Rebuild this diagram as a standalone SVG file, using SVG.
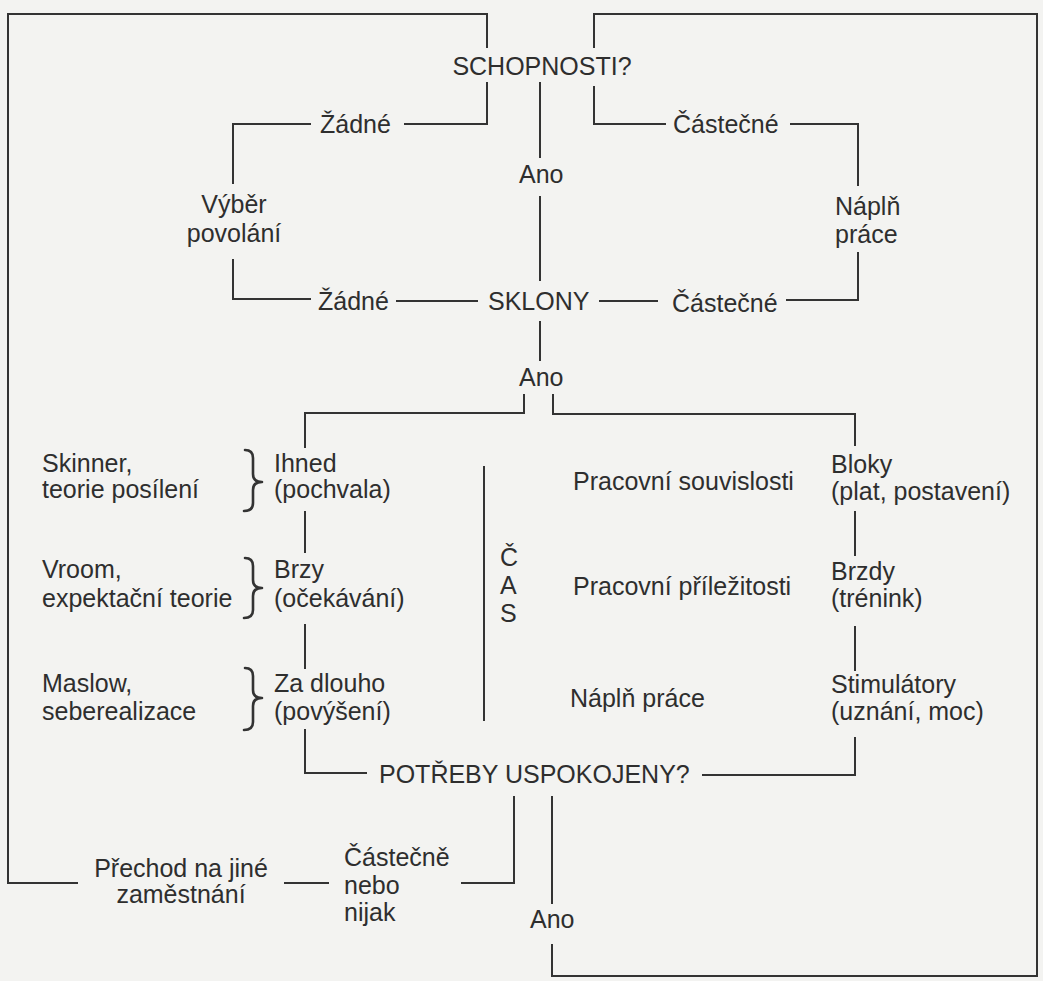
<svg xmlns="http://www.w3.org/2000/svg" width="1043" height="981" viewBox="0 0 1043 981">
<style>
text{font-family:"Liberation Sans",Arial,sans-serif;font-size:25px;fill:#2e2e2e}
.c{text-anchor:middle}
.ln{fill:none;stroke:#333;stroke-width:2;stroke-linecap:square}
.br{fill:none;stroke:#333;stroke-width:2.6;stroke-linecap:round;stroke-linejoin:round}
</style>
<rect width="1043" height="981" fill="#f3f3f1"/>
<g id="connectors" class="ln">
<path class="ln" d="M487 47V14H8V883H77"/>
<path class="ln" d="M487 83V124H405"/>
<path class="ln" d="M310 124H233V183"/>
<path class="ln" d="M233 260V299H310"/>
<path class="ln" d="M397 301H477"/>
<path class="ln" d="M600 301H657"/>
<path class="ln" d="M540 83V157"/>
<path class="ln" d="M540 197V280"/>
<path class="ln" d="M594 47V14H1037V976H552V945"/>
<path class="ln" d="M594 87V124H665"/>
<path class="ln" d="M791 124H858V185"/>
<path class="ln" d="M858 253V300H787"/>
<path class="ln" d="M540 322V360"/>
<path class="ln" d="M524 395V413H305V447"/>
<path class="ln" d="M553 395V414H855V445"/>
<path class="ln" d="M305 512V552"/>
<path class="ln" d="M305 625V668"/>
<path class="ln" d="M305 730V773H366"/>
<path class="ln" d="M855 512V555"/>
<path class="ln" d="M855 627V670"/>
<path class="ln" d="M855 738V775H703"/>
<path class="ln" d="M484 467V720"/>
<path class="ln" d="M514 797V883H462"/>
<path class="ln" d="M552 797V903"/>
<path class="ln" d="M285 883H328"/>
</g>
<g id="schopnosti"><text x="542" y="75" class="c">SCHOPNOSTI?</text></g>
<g id="zadne-top"><text x="320" y="133">Žádné</text></g>
<g id="castecne-top"><text x="673" y="133">Částečné</text></g>
<g id="ano-top"><text x="519" y="183">Ano</text></g>
<g id="vyber"><text x="234" y="213" class="c">Výběr</text><text x="234" y="242" class="c">povolání</text></g>
<g id="napln-top"><text x="835" y="215">Náplň</text><text x="835" y="243">práce</text></g>
<g id="zadne-bottom"><text x="318" y="310">Žádné</text></g>
<g id="sklony"><text x="488" y="310">SKLONY</text></g>
<g id="castecne-bottom"><text x="672" y="312">Částečné</text></g>
<g id="ano-mid"><text x="519" y="386">Ano</text></g>
<g id="skinner"><text x="42" y="472">Skinner,</text><text x="42" y="498">teorie posílení</text></g>
<g id="vroom"><text x="42" y="578">Vroom,</text><text x="42" y="607">expektační teorie</text></g>
<g id="maslow"><text x="42" y="692">Maslow,</text><text x="42" y="720">seberealizace</text></g>
<g id="braces" class="br">
<path class="br" d="M245 450Q253 450 253 458V474Q253 482 262 482Q253 482 253 490V503Q253 511 244 511"/>
<path class="br" d="M245 558Q253 558 253 566V580Q253 588 262 588Q253 588 253 596V610Q253 618 244 618"/>
<path class="br" d="M245 668Q253 668 253 676V690Q253 698 262 698Q253 698 253 706V722Q253 730 244 730"/>
</g>
<g id="ihned"><text x="274" y="472">Ihned</text><text x="274" y="498">(pochvala)</text></g>
<g id="brzy"><text x="274" y="578">Brzy</text><text x="274" y="607">(očekávání)</text></g>
<g id="zadlouho"><text x="274" y="692">Za dlouho</text><text x="274" y="720">(povýšení)</text></g>
<g id="cas"><text x="500" y="566">Č</text><text x="500" y="594">A</text><text x="500" y="622">S</text></g>
<g id="souvislosti"><text x="573" y="490">Pracovní souvislosti</text></g>
<g id="prilezitosti"><text x="573" y="595">Pracovní příležitosti</text></g>
<g id="napln-mid"><text x="570" y="707">Náplň práce</text></g>
<g id="bloky"><text x="831" y="473">Bloky</text><text x="831" y="500">(plat, postavení)</text></g>
<g id="brzdy"><text x="831" y="580">Brzdy</text><text x="831" y="607">(trénink)</text></g>
<g id="stimulatory"><text x="831" y="693">Stimulátory</text><text x="831" y="720">(uznání, moc)</text></g>
<g id="potreby"><text x="379" y="783">POTŘEBY USPOKOJENY?</text></g>
<g id="castecne-nijak"><text x="344" y="866">Částečně</text><text x="344" y="894">nebo</text><text x="344" y="921">nijak</text></g>
<g id="prechod"><text x="181" y="877" class="c">Přechod na jiné</text><text x="181" y="903" class="c">zaměstnání</text></g>
<g id="ano-bottom"><text x="530" y="928">Ano</text></g>
</svg>
